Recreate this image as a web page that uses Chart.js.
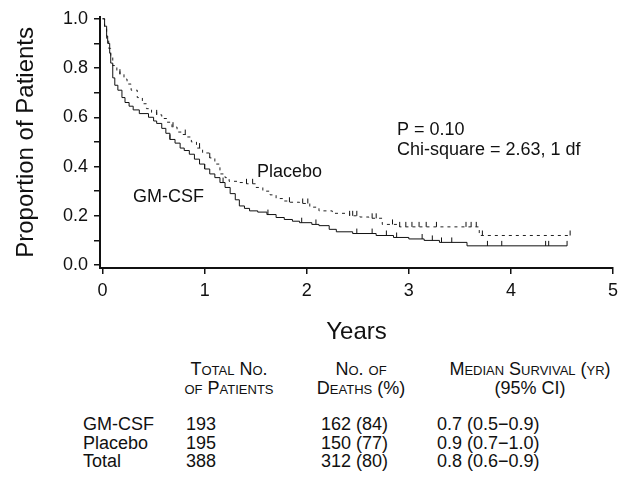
<!DOCTYPE html>
<html>
<head>
<meta charset="utf-8">
<script src="https://cdn.jsdelivr.net/npm/chart.js@4"></script>
<style>
  body { margin: 0; background: #fff; font-family: "Liberation Sans", Arial, sans-serif; }
  #wrap { position: absolute; left: 0; top: 0; width: 637px; height: 345px; }
  .t { position: absolute; font-size: 18px; line-height: 20px; color: #111; white-space: nowrap; }
  .h { font-variant: small-caps; transform: translateX(-50%); }
</style>
</head>
<body>
<div id="wrap"><canvas id="km"></canvas></div>
<div id="table"></div>
<script>
// Kaplan-Meier curves (years, proportion surviving)
const gmTimes = [0, 0.02, 0.04, 0.05, 0.07, 0.08, 0.10, 0.12, 0.15, 0.19, 0.22, 0.26, 0.30, 0.36, 0.45, 0.50, 0.53, 0.58, 0.62, 0.66, 0.71, 0.76, 0.80, 0.85, 0.90, 0.95, 1.00, 1.05, 1.10, 1.15, 1.20, 1.25, 1.30, 1.34, 1.39, 1.44, 1.52, 1.61, 1.70, 1.78, 1.86, 1.93, 2.05, 2.12, 2.22, 2.29, 2.45, 2.68, 2.85, 3.00, 3.15, 3.30, 3.57, 4.55];
const gmSurv  = [1.0, 0.97, 0.93, 0.90, 0.86, 0.82, 0.76, 0.73, 0.71, 0.68, 0.66, 0.645, 0.63, 0.615, 0.60, 0.585, 0.575, 0.555, 0.535, 0.51, 0.495, 0.475, 0.465, 0.45, 0.43, 0.41, 0.39, 0.37, 0.355, 0.335, 0.315, 0.29, 0.265, 0.24, 0.23, 0.22, 0.215, 0.205, 0.193, 0.185, 0.178, 0.172, 0.165, 0.16, 0.145, 0.135, 0.128, 0.12, 0.112, 0.106, 0.10, 0.092, 0.078, 0.078];
const gmCensored = [0.66, 1.0, 1.18, 1.62, 1.95, 2.09, 2.49, 2.64, 2.78, 2.88, 3.13, 3.23, 3.32, 3.42, 3.77, 3.91, 4.34, 4.37, 4.55];

const plTimes = [0, 0.02, 0.04, 0.06, 0.08, 0.10, 0.14, 0.17, 0.21, 0.24, 0.28, 0.34, 0.39, 0.43, 0.48, 0.53, 0.58, 0.63, 0.68, 0.73, 0.78, 0.82, 0.87, 0.92, 0.98, 1.05, 1.10, 1.15, 1.20, 1.24, 1.32, 1.41, 1.50, 1.57, 1.64, 1.70, 1.77, 1.83, 1.93, 2.03, 2.12, 2.25, 2.42, 2.52, 2.61, 2.74, 2.91, 3.69, 4.58];
const plSurv  = [1.0, 0.96, 0.92, 0.88, 0.85, 0.81, 0.79, 0.775, 0.755, 0.735, 0.71, 0.68, 0.655, 0.635, 0.62, 0.61, 0.595, 0.58, 0.56, 0.54, 0.53, 0.52, 0.50, 0.475, 0.455, 0.435, 0.41, 0.37, 0.355, 0.34, 0.335, 0.33, 0.315, 0.30, 0.285, 0.27, 0.26, 0.255, 0.25, 0.235, 0.22, 0.21, 0.20, 0.195, 0.19, 0.165, 0.155, 0.12, 0.12];
const plCensored = [0.17, 0.53, 0.69, 0.81, 0.95, 1.05, 1.41, 1.47, 1.83, 1.96, 2.01, 2.42, 2.45, 2.49, 2.64, 2.68, 2.84, 2.91, 2.97, 3.03, 3.10, 3.17, 3.27, 3.56, 3.61, 3.66, 3.72, 4.58];

const xTicks = [0, 1, 2, 3, 4, 5];
const yTicks = [0, 0.1, 0.2, 0.3, 0.4, 0.5, 0.6, 0.7, 0.8, 0.9, 1.0];

// table under the chart
const tableGroups = ["GM-CSF", "Placebo", "Total"];
const tablePatients = ["193", "195", "388"];
const tableDeaths = ["162 (84)", "150 (77)", "312 (80)"];
const tableMedian = ["0.7 (0.5\u22120.9)", "0.9 (0.7\u22121.0)", "0.8 (0.6\u22120.9)"];

const FONT = "'Liberation Sans', Arial, sans-serif";

const toPoints = (times, surv) => times.map((t, i) => ({ x: t, y: surv[i] }));
const survAt = (times, surv, t) => {
  let v = surv[0];
  times.forEach((ti, i) => { if (ti <= t) v = surv[i]; });
  return v;
};
const censorPoints = (cens, times, surv) => cens.map(t => ({ x: t, y: survAt(times, surv, t) }));

// censor tick: a short vertical line pointing up from the curve
const tick = document.createElement("canvas");
tick.width = 3; tick.height = 12;
const tctx = tick.getContext("2d");
tctx.strokeStyle = "#111";
tctx.lineWidth = 1;
tctx.beginPath(); tctx.moveTo(1.5, 1); tctx.lineTo(1.5, 6); tctx.stroke();

const notes = {
  id: "notes",
  afterDraw(chart) {
    const c = chart.ctx;
    c.save();
    c.fillStyle = "#111";
    c.font = "18px " + FONT;
    c.textBaseline = "alphabetic";
    c.fillText("P = 0.10", 397, 135);
    c.fillText("Chi-square = 2.63, 1 df", 397, 155);
    c.fillText("Placebo", 257, 177);
    c.fillText("GM-CSF", 133, 202);
    c.restore();
  }
};

new Chart(document.getElementById("km"), {
  type: "scatter",
  data: {
    datasets: [
      { data: toPoints(gmTimes, gmSurv), showLine: true, stepped: true, borderColor: "#111", borderWidth: 1, pointRadius: 0 },
      { data: toPoints(plTimes, plSurv), showLine: true, stepped: true, borderColor: "#222", borderWidth: 1, borderDash: [3, 4], pointRadius: 0 },
      { data: censorPoints(gmCensored, gmTimes, gmSurv), showLine: false, pointStyle: tick },
      { data: censorPoints(plCensored, plTimes, plSurv), showLine: false, pointStyle: tick }
    ]
  },
  options: {
    responsive: true,
    maintainAspectRatio: false,
    animation: false,
    layout: { padding: { top: 14, right: 24, left: 0, bottom: 0 } },
    plugins: { legend: { display: false }, tooltip: { enabled: false } },
    scales: {
      x: {
        type: "linear",
        min: -0.025,
        max: 5,
        afterBuildTicks: s => { s.ticks = xTicks.map(v => ({ value: v })); },
        afterFit: s => { s.height = 77; },
        ticks: { color: "#111", font: { family: FONT, size: 18 }, padding: 6, callback: v => String(v) },
        grid: { drawOnChartArea: false, drawTicks: true, tickLength: 6, color: "#111", lineWidth: 1.5 },
        border: { display: true, color: "#111", width: 2 },
        title: { display: true, text: "Years", color: "#111", font: { family: FONT, size: 24, lineHeight: 1 }, padding: { top: 0, bottom: 1 } }
      },
      y: {
        type: "linear",
        min: -0.012,
        max: 1.008,
        afterBuildTicks: s => { s.ticks = yTicks.map(v => ({ value: v })); },
        afterFit: s => { s.width = 100; },
        ticks: {
          color: "#111", font: { family: FONT, size: 18 }, padding: 6,
          callback: v => (Math.round(v * 10) % 2 === 0 ? v.toFixed(1) : "")
        },
        grid: { drawOnChartArea: false, drawTicks: true, tickLength: 6, color: "#111", lineWidth: 1.5 },
        border: { display: true, color: "#111", width: 2 },
        title: { display: true, text: "Proportion of Patients", color: "#111", font: { family: FONT, size: 24, lineHeight: 1 }, padding: { top: 14, bottom: 0 } }
      }
    }
  },
  plugins: [notes]
});

// table
const table = document.getElementById("table");
const put = (text, x, y, cls) => {
  const d = document.createElement("div");
  d.className = "t " + (cls || "");
  d.textContent = text;
  d.style.left = x + "px";
  d.style.top = y + "px";
  table.appendChild(d);
};
put("Total No.", 229, 359, "h");
put("of Patients", 229, 378, "h");
put("No. of", 361, 359, "h");
put("Deaths (%)", 361, 378, "h");
put("Median Survival (yr)", 530, 359, "h");
put("(95% CI)", 530, 378, "h");
tableGroups.forEach((g, i) => {
  const y = 414 + i * 18.5;
  put(g, 83, y);
  put(tablePatients[i], 186, y);
  put(tableDeaths[i], 321, y);
  put(tableMedian[i], 437, y);
});
</script>
</body>
</html>
